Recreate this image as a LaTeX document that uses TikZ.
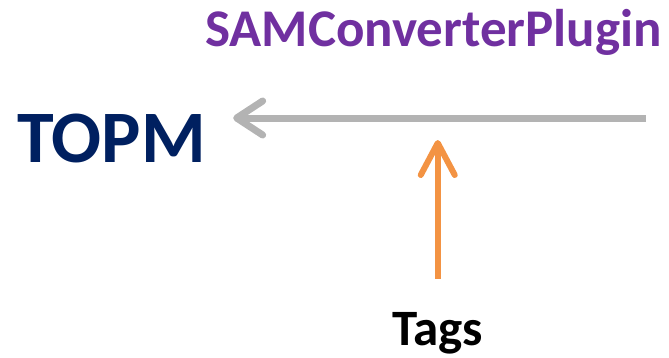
\documentclass[tikz,border=0pt]{standalone}
\usepackage{fontspec}
\setmainfont{Carlito}
\usetikzlibrary{arrows.meta}

\definecolor{navy}{HTML}{002060}
\definecolor{plum}{HTML}{7030A0}
\definecolor{feedgray}{HTML}{B3B3B3}
\definecolor{tagorange}{HTML}{F39343}

\tikzset{
    label/.style={font=\bfseries, inner sep=0pt},
    chevron/.style={-{Straight Barb[length=#1, width=34pt, round]}},
    chevron/.default=26pt,
}

\begin{document}
\begin{tikzpicture}[x=1pt, y=1pt]
    \useasboundingbox (0,0) rectangle (669,357);
    \node [label, anchor=base west, text=navy, font=\bfseries\fontsize{74}{74}\selectfont] (topm) at (17,195) {TOPM};
    \node [label, anchor=base west, text=plum, font=\bfseries\fontsize{53}{53}\selectfont] (plugin) at (205,310) {SAMConverterPlugin};
    \node [label, anchor=base west, font=\bfseries\fontsize{51}{51}\selectfont] (tags) at (392,12) {Tags};
    \coordinate (feed) at (646,239);
    \draw [chevron, feedgray, line width=7pt, shorten >=27pt] (feed) -- (feed -| topm.east);
    \draw [chevron=32pt, tagorange, line width=6pt, shorten <=33pt, shorten >=22pt] (tags.north) -- (tags.north |- feed);
\end{tikzpicture}
\end{document}
